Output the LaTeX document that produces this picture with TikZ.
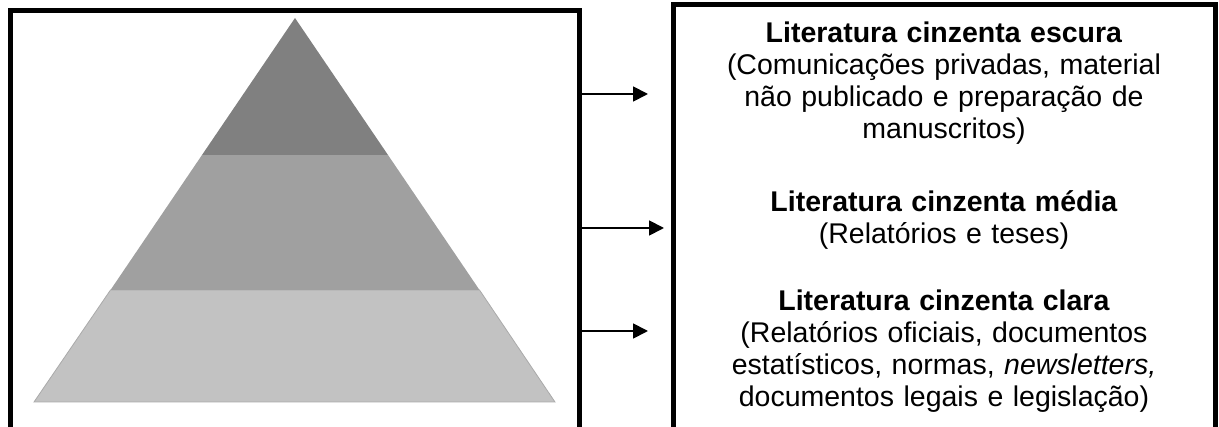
\documentclass[tikz,border=0pt]{standalone}
\usepackage{fontspec}
\setmainfont{Liberation Sans}
\usetikzlibrary{arrows.meta}
\definecolor{tierA}{HTML}{808080}
\definecolor{tierB}{HTML}{A0A0A0}
\definecolor{tierC}{HTML}{C2C2C2}
\tikzset{
  frame/.style={line width=5pt, line cap=butt, line join=miter, black},
  pointer/.style={line width=1.8pt, -{Triangle[length=15pt,width=15pt]}},
  label/.style={text width=540pt, align=center, inner sep=0pt, anchor=base,
    font=\fontsize{28.5pt}{32pt}\selectfont}
}
\begin{document}
\begin{tikzpicture}[x=1pt,y=-1pt]
\useasboundingbox (0,0) rectangle (1219,427);
% pyramid tiers
\fill[tierC, draw=tierB!90, line width=0.8pt] (110.5,290) -- (479.5,290) -- (555,402) -- (34,402) -- cycle;
\fill[tierB] (202,155) -- (388,155) -- (479.5,290) -- (110.5,290) -- cycle;
\fill[tierA] (295,18) -- (388,155) -- (202,155) -- cycle;
% frames
\draw[frame] (10.5,427) -- (10.5,10.5) -- (579.5,10.5) -- (579.5,427);
\draw[frame] (673,427) -- (673,5) -- (1215,5) -- (1215,427);
% arrow coordinates
\coordinate (s1) at (582,94);  \coordinate (e1) at (648,94);
\coordinate (s2) at (582,228); \coordinate (e2) at (664,228);
\coordinate (s3) at (582,331); \coordinate (e3) at (648,331);
\draw[pointer] (s1) -- (e1);
\draw[pointer] (s2) -- (e2);
\draw[pointer] (s3) -- (e3);
% texts
\node[label] (t1) at (944,43) {\textbf{Literatura cinzenta escura}\\(Comunicações privadas, material\\não publicado e preparação de\\manuscritos)};
\node[label] (t2) at (944,212) {\textbf{Literatura cinzenta média}\\(Relatórios e teses)};
\node[label] (t3) at (944,311) {\textbf{Literatura cinzenta clara}\\(Relatórios oficiais, documentos\\estatísticos, normas, \textit{newsletters,}\\documentos legais e legislação)};
\end{tikzpicture}
\end{document}
